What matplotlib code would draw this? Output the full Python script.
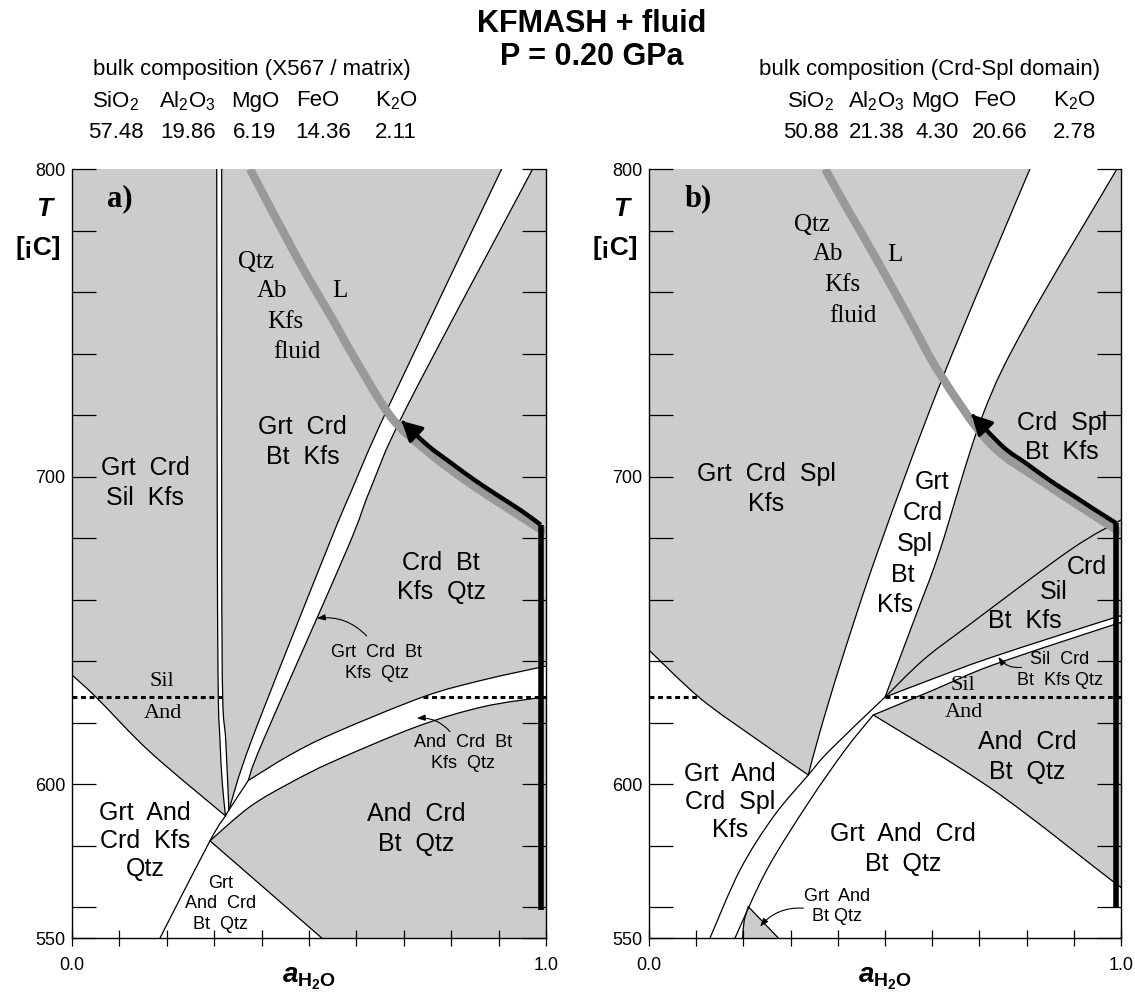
import numpy as np
import matplotlib
matplotlib.use('Agg')
import matplotlib.pyplot as plt
from matplotlib.patches import PathPatch
from matplotlib.path import Path
from matplotlib.ticker import FixedLocator, FixedFormatter

plt.rcParams['font.family'] = ['Liberation Sans', 'DejaVu Sans']
plt.rcParams['mathtext.fontset'] = 'custom'
plt.rcParams['mathtext.rm'] = 'Liberation Sans'
plt.rcParams['mathtext.it'] = 'Liberation Sans:italic'
plt.rcParams['mathtext.bf'] = 'Liberation Sans:bold'
try:
    plt.rcParams['mathtext.bfit'] = 'Liberation Sans:italic:bold'
except KeyError:
    pass

# ---------------- header data ----------------
OXIDES = ['SiO$_2$', 'Al$_2$O$_3$', 'MgO', 'FeO', 'K$_2$O']
BULK_A = [57.48, 19.86, 6.19, 14.36, 2.11]
BULK_B = [50.88, 21.38, 4.30, 20.66, 2.78]

# ---------------- panel a boundaries (a_H2O, T) ----------------
A_VL_X = [0.3053, 0.3066, 0.3087, 0.3122, 0.3165, 0.3238]
A_VL_T = [800.0, 676.1, 628.3, 614.4, 601.4, 589.7]
A_VR_X = [0.3158, 0.3158, 0.3179, 0.3243, 0.3310]
A_VR_T = [800.0, 676.1, 628.3, 614.4, 591.6]
A_DL_X = [0.9065, 0.6673, 0.5901, 0.5373, 0.3791, 0.3310]
A_DL_T = [800.0, 722.6, 695.6, 676.1, 614.4, 591.6]
A_DR_X = [0.9719, 0.7061, 0.6287, 0.5795, 0.4039, 0.3719]
A_DR_T = [800.0, 722.6, 695.6, 676.1, 614.4, 601.2]
A_UP_X = [0.1857, 0.2911, 0.3238, 0.3310, 0.3719, 0.4600, 0.5513, 0.7411, 0.8677, 1.0]
A_UP_T = [550.0, 581.6, 589.7, 591.6, 601.2, 609.5, 616.5, 628.4, 633.9, 638.4]
A_LO_X = [0.2911, 0.3755, 0.4600, 0.5513, 0.7272, 0.8677, 1.0]
A_LO_T = [581.6, 592.7, 600.4, 607.4, 618.7, 625.2, 628.4]
A_LB_X = [0.0, 0.0527, 0.1646, 0.3238]
A_LB_T = [635.5, 628.0, 610.5, 589.7]
A_BT_X = [0.2911, 0.5268]
A_BT_T = [581.6, 550.0]
A_SA1_X = [0.0, 0.3179]
A_SA2_X = [0.7411, 1.0]
SIL_AND_T = 628.3
A_SOL_X = [0.3755, 0.4774, 0.5549, 0.5901, 0.6724, 0.7468, 0.8397, 1.0]
A_SOL_T = [800.0, 770.4, 749.8, 740.1, 719.5, 708.6, 697.8, 681.7]
A_PATH_X = [0.989, 0.989, 0.95, 0.90, 0.85, 0.80, 0.75, 0.6956]
A_PATH_T = [559.0, 684.3, 688.7, 693.7, 698.8, 704.4, 710.2, 718.1]

# ---------------- panel b boundaries ----------------
B_BL_X = [0.807, 0.6201, 0.4858, 0.4083, 0.3623, 0.3375]
B_BL_T = [800.0, 731.4, 676.1, 640.4, 617.1, 603.0]
B_LL_X = [0.0, 0.108, 0.2246, 0.3375]
B_LL_T = [643.6, 628.0, 615.0, 603.0]
B_BR_X = [0.9915, 0.8002, 0.7055, 0.6165, 0.5672, 0.5]
B_BR_T = [800.0, 749.9, 719.4, 676.1, 655.6, 628.3]
B_CRD_X = [0.5, 0.5811, 0.6731, 0.8919, 1.0]
B_CRD_T = [628.3, 640.4, 651.2, 676.1, 685.9]
B_A_X = [0.1292, 0.1928, 0.2634, 0.3375, 0.3835, 0.5, 0.5953, 0.7288, 0.983, 1.0]
B_A_T = [550.0, 572.1, 589.4, 603.0, 611.1, 628.3, 633.9, 641.4, 654.0, 654.4]
B_B_X = [0.1822, 0.2494, 0.3369, 0.4153, 0.4752, 0.6023, 0.7295, 0.9837, 1.0]
B_B_T = [550.0, 572.1, 593.8, 611.1, 622.5, 630.6, 638.8, 651.8, 652.3]
B_AQ_X = [0.4752, 0.7295, 0.9837, 1.0]
B_AQ_T = [622.5, 598.1, 568.3, 566.8]
B_TRI_X = [0.1985, 0.2015, 0.2104, 0.2740]
B_TRI_T = [550.0, 555.5, 560.2, 550.0]
B_SA1_X = [0.0, 0.1017]
B_SA2_X = [0.5, 1.0]
B_SOL_X = [0.3729, 0.4258, 0.4788, 0.5494, 0.6180, 0.7225, 0.8390, 1.0]
B_SOL_T = [800.0, 785.6, 771.5, 752.0, 733.0, 710.8, 697.8, 681.7]
B_PATH_X = [0.9894, 0.9894, 0.95, 0.90, 0.85, 0.80, 0.75, 0.6837]
B_PATH_T = [560.0, 684.9, 688.7, 693.7, 698.7, 704.2, 709.7, 720.2]

GRAY = '#cccccc'
SOLGRAY = '#999999'
W, H = 1135, 992


# ---------------- smooth curve helpers (Bezier through the read points) ----------------
def bez(xs, ys, kinks=()):
    pts = np.column_stack([xs, ys]).astype(float)
    cuts = [0] + sorted(kinks) + [len(pts) - 1]
    segs = []
    for a, b in zip(cuts[:-1], cuts[1:]):
        P = pts[a:b + 1]
        n = len(P)
        for i in range(n - 1):
            p0 = P[i - 1] if i > 0 else P[i]
            p1, p2 = P[i], P[i + 1]
            p3 = P[i + 2] if i + 2 < n else P[i + 1]
            c1 = p1 + (p2 - p0) / 6.0
            c2 = p2 - (p3 - p1) / 6.0
            segs.append((p1, c1, c2, p2))
    return segs


def part(segs, i, j):
    if i < j:
        return list(segs[i:j])
    return [(s[3], s[2], s[1], s[0]) for s in reversed(segs[j:i])]


def open_path(segs):
    verts = [segs[0][0]]
    codes = [Path.MOVETO]
    for s in segs:
        verts += [s[1], s[2], s[3]]
        codes += [Path.CURVE4] * 3
    return Path(verts, codes)


def closed_path(pieces):
    verts, codes = [], []
    for kind, item in pieces:
        if kind == 'c':
            verts.append(item[0][0])
            codes.append(Path.MOVETO if not codes else Path.LINETO)
            for s in item:
                verts += [s[1], s[2], s[3]]
                codes += [Path.CURVE4] * 3
        else:
            for p in item:
                verts.append(p)
                codes.append(Path.MOVETO if not codes else Path.LINETO)
    verts.append(verts[0])
    codes.append(Path.CLOSEPOLY)
    return Path(verts, codes)


def fill(ax, pieces, fc):
    ax.add_patch(PathPatch(closed_path(pieces), facecolor=fc, edgecolor='none', zorder=1))


def curve(ax, segs, color='k', lw=0.9, z=3, cap='round'):
    ax.add_patch(PathPatch(open_path(segs), facecolor='none', edgecolor=color, lw=lw,
                           zorder=z, capstyle=cap, joinstyle='round'))


fig = plt.figure(figsize=(W / 100, H / 100), dpi=100)
axa = fig.add_axes([72 / W, 1 - 938 / H, 474 / W, 769 / H])
axb = fig.add_axes([649 / W, 1 - 938 / H, 472 / W, 769 / H])


def style_axes(ax):
    ax.set_xlim(0, 1)
    ax.set_ylim(550, 800)
    ax.spines['top'].set_visible(False)
    for s in ('left', 'right', 'bottom'):
        ax.spines[s].set_linewidth(1.0)
    yt = [550] + list(range(560, 801, 20))
    ax.yaxis.set_major_locator(FixedLocator(yt))
    ax.yaxis.set_major_formatter(FixedFormatter(
        ['550' if v == 550 else (str(v) if v in (600, 700, 800) else '') for v in yt]))
    xt = [i / 10 for i in range(11)]
    ax.xaxis.set_major_locator(FixedLocator(xt))
    ax.xaxis.set_major_formatter(FixedFormatter(['0.0'] + [''] * 9 + ['1.0']))
    ax.tick_params(axis='y', which='major', direction='in', length=17, width=0.9,
                   left=True, right=True, labelleft=True, labelright=False,
                   labelsize=13, pad=5)
    ax.tick_params(axis='x', which='major', direction='inout', length=11, width=0.9,
                   bottom=True, top=False, labelsize=13, pad=8)
    for t in ax.get_xticklabels() + ax.get_yticklabels():
        t.set_fontfamily('Liberation Sans')


def sans(ax, x, T, s, size=18, ls=1.28):
    ax.text(x, T, s, ha='center', va='center', fontsize=size, family='Liberation Sans',
            linespacing=ls, multialignment='center', zorder=6)


def serif(ax, x, T, s, size=18):
    ax.text(x, T, s, ha='center', va='center', fontsize=size, family='Liberation Serif',
            zorder=6)


def thin_arrow(ax, xy_from, xy_to, rad):
    ax.annotate('', xy=xy_to, xytext=xy_from,
                arrowprops=dict(arrowstyle='-|>,head_length=0.5,head_width=0.18',
                                lw=0.8, color='k', mutation_scale=10,
                                connectionstyle='arc3,rad=%s' % rad,
                                shrinkA=0, shrinkB=0), zorder=6)


def draw_path(ax, px, pt):
    ax.plot(px[:2], pt[:2], color='k', lw=4, zorder=5, solid_capstyle='butt')
    segs = bez(px[1:], pt[1:])
    curve(ax, segs[:-1] + [(segs[-1][0], segs[-1][1], segs[-1][2],
                            segs[-1][0] + 0.55 * (segs[-1][3] - segs[-1][0]))],
          lw=3.2, z=5, cap='butt')
    last = segs[-1]
    ax.annotate('', xy=tuple(last[3]), xytext=tuple(last[3] - 0.35 * (last[3] - last[2])),
                arrowprops=dict(arrowstyle='-|>,head_length=0.6,head_width=0.32',
                                lw=2.5, color='k', mutation_scale=20,
                                shrinkA=0, shrinkB=0), zorder=5)


# ================= panel a =================
ax = axa
ax.set_facecolor(GRAY)
vl = bez(A_VL_X, A_VL_T)
vr = bez(A_VR_X, A_VR_T)
dl = bez(A_DL_X, A_DL_T)
dr = bez(A_DR_X, A_DR_T)
up = bez(A_UP_X, A_UP_T, kinks=(4,))
lo = bez(A_LO_X, A_LO_T)
lb = bez(A_LB_X, A_LB_T)
bt = bez(A_BT_X, A_BT_T)
n_up = len(A_UP_X) - 1
fill(ax, [('c', vl), ('c', part(up, 2, 3)), ('c', part(vr, len(vr), 0))], 'white')
fill(ax, [('c', dl), ('c', part(up, 3, 4)), ('c', part(dr, len(dr), 0))], 'white')
fill(ax, [('c', part(up, 1, n_up)), ('l', [(1.0, A_LO_T[-1])]),
          ('c', part(lo, len(lo), 0))], 'white')
fill(ax, [('c', lb), ('c', part(up, 2, 0)), ('l', [(0.0, 550.0)])], 'white')
fill(ax, [('c', part(up, 0, 1)), ('l', [(A_BT_X[1], A_BT_T[1])])], 'white')
for s in (vl, vr, dl, dr, up, lo, lb, bt):
    curve(ax, s)
for xs in (A_SA1_X, A_SA2_X):
    ax.plot(xs, [SIL_AND_T] * 2, color='k', lw=2.2, ls=(0, (1.6, 1.2)), zorder=4)
curve(ax, bez(A_SOL_X, A_SOL_T), color=SOLGRAY, lw=6, z=4, cap='butt')
draw_path(ax, A_PATH_X, A_PATH_T)

ax.text(0.073, 790.2, 'a)', ha='left', va='center', fontsize=22, fontweight='bold',
        family='Liberation Serif', zorder=6)
serif(ax, 0.3882, 769.9, 'Qtz')
serif(ax, 0.4213, 760.4, 'Ab')
serif(ax, 0.4510, 750.3, 'Kfs')
serif(ax, 0.4753, 740.5, 'fluid')
serif(ax, 0.5654, 760.4, 'L')
sans(ax, 0.4863, 711.3, 'Grt  Crd\nBt  Kfs')
sans(ax, 0.1540, 697.9, 'Grt  Crd\nSil  Kfs')
sans(ax, 0.7791, 667.2, 'Crd  Bt\nKfs  Qtz')
serif(ax, 0.1899, 633.3, 'Sil', 16)
serif(ax, 0.1909, 623.0, 'And', 16)
sans(ax, 0.1540, 581.5, 'Grt  And\nCrd  Kfs\nQtz', ls=1.22)
sans(ax, 0.3143, 561.1, 'Grt\nAnd  Crd\nBt  Qtz', size=13, ls=1.25)
sans(ax, 0.7268, 585.4, 'And  Crd\nBt  Qtz')
sans(ax, 0.6425, 639.4, 'Grt  Crd  Bt\nKfs  Qtz', size=13, ls=1.3)
sans(ax, 0.8256, 610.0, 'And  Crd  Bt\nKfs  Qtz', size=13, ls=1.3)
thin_arrow(ax, (0.6217, 648.2), (0.5162, 653.9), 0.25)
thin_arrow(ax, (0.7975, 617.1), (0.7272, 621.4), 0.25)
style_axes(ax)

# ================= panel b =================
ax = axb
ax.set_facecolor('white')
bl = bez(B_BL_X, B_BL_T)
ll = bez(B_LL_X, B_LL_T)
br = bez(B_BR_X, B_BR_T)
crd = bez(B_CRD_X, B_CRD_T)
ca = bez(B_A_X, B_A_T, kinks=(5,))
cb = bez(B_B_X, B_B_T, kinks=(4,))
aq = bez(B_AQ_X, B_AQ_T)
tri_l = bez(B_TRI_X[:3], B_TRI_T[:3])
tri_r = bez(B_TRI_X[2:], B_TRI_T[2:])
fill(ax, [('l', [(0.0, 800.0)]), ('c', bl), ('c', part(ll, len(ll), 0))], GRAY)
fill(ax, [('c', br), ('c', crd), ('l', [(1.0, 800.0)])], GRAY)
fill(ax, [('c', crd), ('c', part(ca, len(ca), 5))], GRAY)
fill(ax, [('c', part(cb, 4, len(cb))), ('c', part(aq, len(aq), 0))], GRAY)
fill(ax, [('c', tri_l), ('c', tri_r)], GRAY)
for s in (bl, ll, br, crd, ca, cb, aq, tri_l, tri_r):
    curve(ax, s)
for xs in (B_SA1_X, B_SA2_X):
    ax.plot(xs, [SIL_AND_T] * 2, color='k', lw=2.2, ls=(0, (1.6, 1.2)), zorder=4)
curve(ax, bez(B_SOL_X, B_SOL_T), color=SOLGRAY, lw=6, z=4, cap='butt')
draw_path(ax, B_PATH_X, B_PATH_T)

ax.text(0.076, 790.5, 'b)', ha='left', va='center', fontsize=22, fontweight='bold',
        family='Liberation Serif', zorder=6)
serif(ax, 0.3453, 781.8, 'Qtz')
serif(ax, 0.3799, 772.4, 'Ab')
serif(ax, 0.4100, 762.3, 'Kfs')
serif(ax, 0.4329, 752.1, 'fluid')
serif(ax, 0.5212, 772.0, 'L')
sans(ax, 0.2479, 696.0, 'Grt  Crd  Spl\nKfs')
for xx, tt, s in [(0.5996, 698.2, 'Grt'), (0.5805, 688.2, 'Crd'), (0.5636, 678.1, 'Spl'),
                  (0.5381, 668.1, 'Bt'), (0.5212, 658.3, 'Kfs')]:
    sans(ax, xx, tt, s)
sans(ax, 0.8750, 712.7, 'Crd  Spl\nBt  Kfs')
sans(ax, 0.9273, 670.7, 'Crd')
sans(ax, 0.8566, 662.6, 'Sil')
sans(ax, 0.7966, 653.1, 'Bt  Kfs')
sans(ax, 0.8708, 637.1, 'Sil  Crd\nBt  Kfs Qtz', size=13, ls=1.3)
serif(ax, 0.6659, 632.0, 'Sil', 16)
serif(ax, 0.6678, 623.3, 'And', 16)
sans(ax, 0.8008, 608.8, 'And  Crd\nBt  Qtz')
sans(ax, 0.5381, 578.9, 'Grt  And  Crd\nBt  Qtz')
sans(ax, 0.1716, 594.2, 'Grt  And\nCrd  Spl\nKfs', ls=1.22)
sans(ax, 0.3976, 560.2, 'Grt  And\nBt Qtz', size=13, ls=1.25)
thin_arrow(ax, (0.7896, 638.0), (0.7400, 641.4), -0.3)
thin_arrow(ax, (0.3270, 559.7), (0.2352, 553.7), 0.25)
style_axes(ax)


# ================= figure texts =================
def ftext(px, py, s, **kw):
    fig.text(px / W, 1 - py / H, s, ha='center', va='center', **kw)


ftext(592, 24, 'KFMASH + fluid', fontsize=22, fontweight='bold')
ftext(592, 57, 'P = 0.20 GPa', fontsize=22, fontweight='bold')

ftext(252, 69, 'bulk composition (X567 / matrix)', fontsize=16)
ftext(930, 69, 'bulk composition (Crd-Spl domain)', fontsize=16)
OX_COLS_A = [116, 187, 255, 318, 396]
VAL_COLS_A = [116, 188, 255, 323, 396]
OX_COLS_B = [811, 876, 935, 995, 1074]
VAL_COLS_B = [811, 877, 937, 1000, 1074]
for cx, ox in zip(OX_COLS_A, OXIDES):
    ftext(cx, 101, ox, fontsize=16)
for cx, v in zip(VAL_COLS_A, BULK_A):
    ftext(cx, 133, '%.2f' % v, fontsize=16)
for cx, ox in zip(OX_COLS_B, OXIDES):
    ftext(cx, 101, ox, fontsize=16)
for cx, v in zip(VAL_COLS_B, BULK_B):
    ftext(cx, 133, '%.2f' % v, fontsize=16)

for left in (72, 649):
    ftext(left - 28, 209, 'T', fontsize=19, fontweight='bold', fontstyle='italic')
    ftext(left - 34, 248, '[¡C]', fontsize=19, fontweight='bold')

for cx in (309, 885):
    ftext(cx, 979, r'$\mathbfit{a}_{\mathbf{H_2O}}$', fontsize=20)

fig.savefig('out.png', dpi=100)
